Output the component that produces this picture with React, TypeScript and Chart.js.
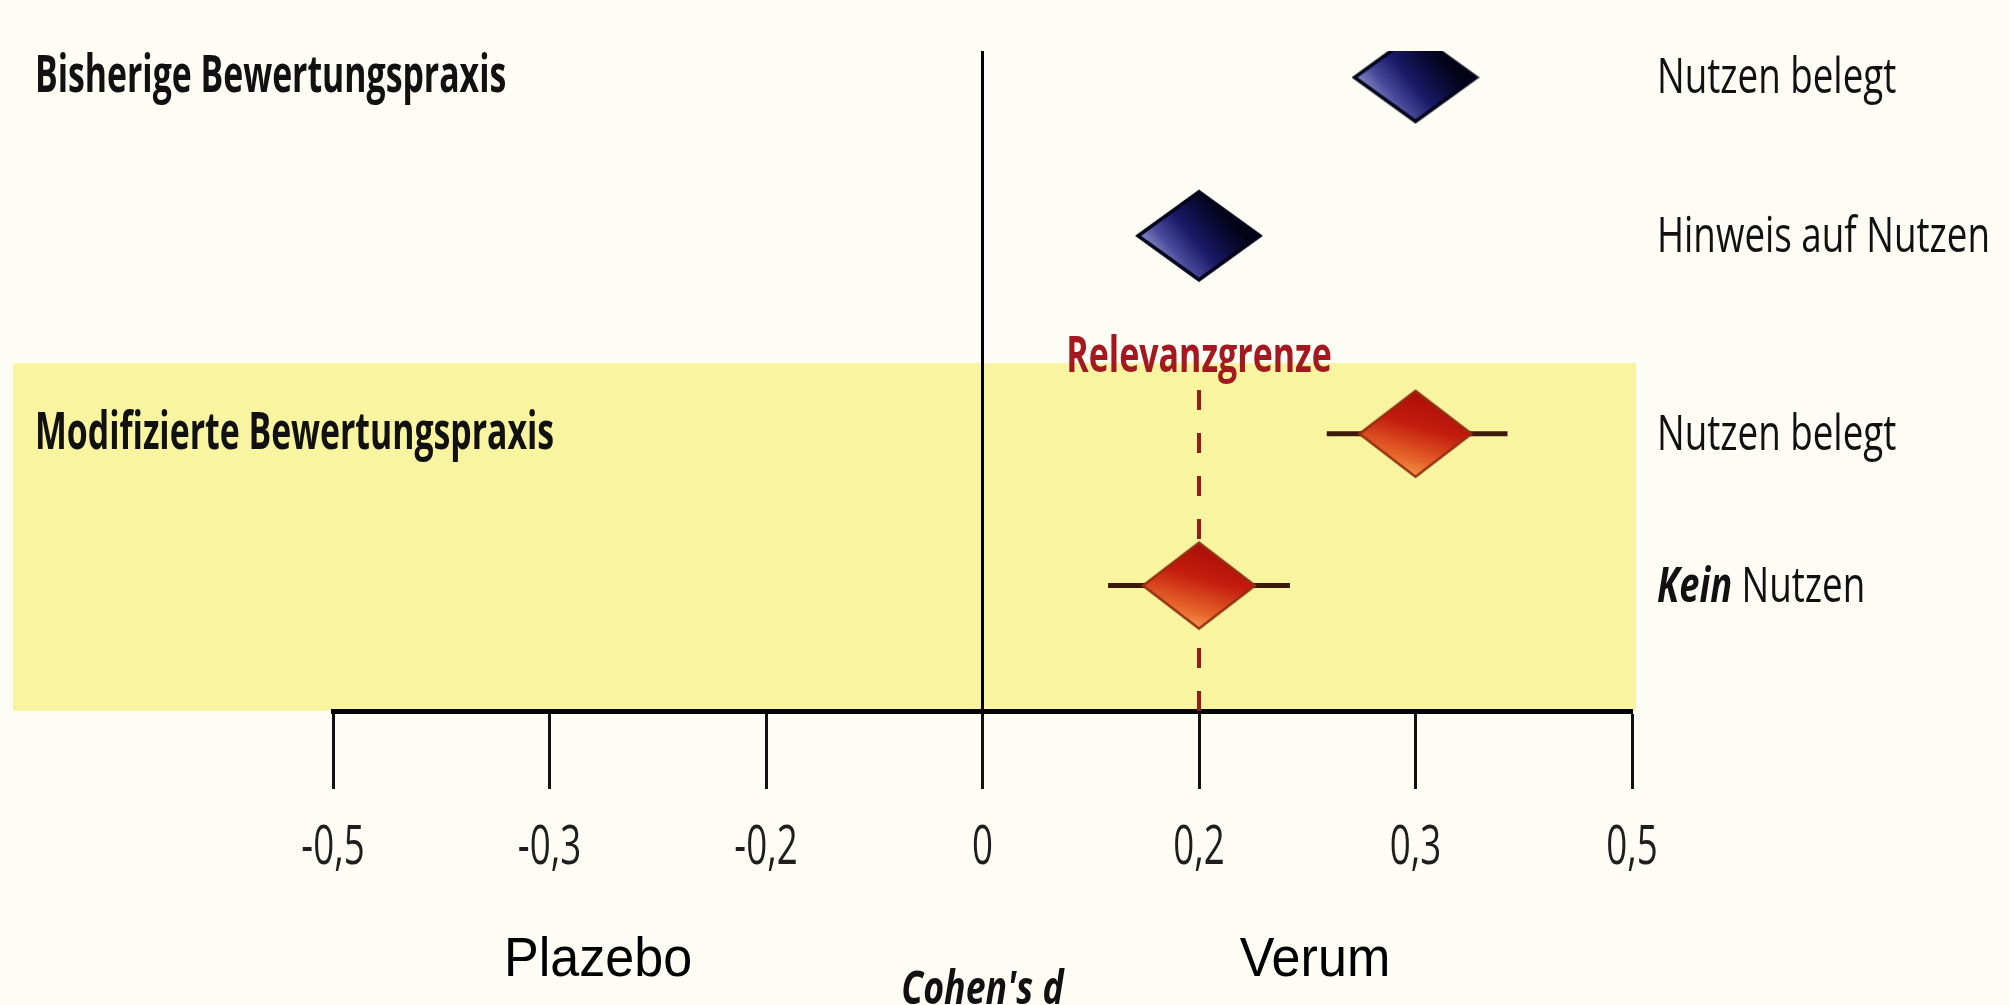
import React, { useEffect, useRef } from "react";
import { Chart, registerables } from "chart.js";

Chart.register(...registerables);

// ---------------- data ----------------
const tickValues = [-0.5, -0.3, -0.2, 0, 0.2, 0.3, 0.5];
const tickLabels = ["-0,5", "-0,3", "-0,2", "0", "0,2", "0,3", "0,5"];
const groupLabels = ["Bisherige Bewertungspraxis", "Modifizierte Bewertungspraxis"];
const groupRows = [0, 2];
const rowLabels = ["Nutzen belegt", "Hinweis auf Nutzen", "Nutzen belegt", "Nutzen"];
const rowLabelPrefix = ["", "", "", "Kein "];
const rowPositions = [9.6, 7.2, 4.2, 1.9];
const effects = [0.3, 0.2, 0.3, 0.2];
const groupOfRow = ["bisherig", "bisherig", "modifiziert", "modifiziert"];
const ciLower = [null, null, 0.259, 0.116];
const ciUpper = [null, null, 0.385, 0.242];
const relevanceThreshold = 0.2;
const relevanceLabel = "Relevanzgrenze";
const relevanceLineTop = 4.94;
const bandTop = 5.27;
const yMax = 10;
const sideLabels = ["Plazebo", "Verum"];
const axisTitle = "Cohen's d";

// map a Cohen's d value onto the equally spaced tick positions of the axis
function toAxis(d: number): number {
  for (let i = 0; i < tickValues.length - 1; i++) {
    const a = tickValues[i], b = tickValues[i + 1];
    if (d >= a && d <= b) return i + (d - a) / (b - a);
  }
  return d < tickValues[0] ? 0 : tickValues.length - 1;
}

// ---------------- styles ----------------
const W = 2009;
const H = 1005;
const REG = "'Open Sans', 'Noto Sans', sans-serif";

function makeDiamond(w: number, h: number, kind: "blue" | "red"): HTMLCanvasElement {
  const c = document.createElement("canvas");
  const p = 3;
  c.width = w + 2 * p;
  c.height = h + 2 * p;
  const g = c.getContext("2d")!;
  const cx = c.width / 2, cy = c.height / 2;
  g.beginPath();
  g.moveTo(cx, p);
  g.lineTo(c.width - p, cy);
  g.lineTo(cx, c.height - p);
  g.lineTo(p, cy);
  g.closePath();
  let grad: CanvasGradient;
  if (kind === "blue") {
    grad = g.createLinearGradient(p + w * 0.18, cy + h * 0.3, cx + w * 0.2, cy - h * 0.3);
    grad.addColorStop(0, "#8a8ac6");
    grad.addColorStop(0.22, "#4a4a9c");
    grad.addColorStop(0.5, "#1a1a68");
    grad.addColorStop(0.8, "#0a0a34");
    grad.addColorStop(1, "#030316");
    g.fillStyle = grad;
    g.fill();
    g.lineWidth = 3.5;
    g.strokeStyle = "#04041a";
    g.stroke();
  } else {
    grad = g.createLinearGradient(cx + w * 0.1, p, cx - w * 0.12, c.height - p);
    grad.addColorStop(0, "#a80c08");
    grad.addColorStop(0.4, "#c41c0e");
    grad.addColorStop(0.78, "#e6642a");
    grad.addColorStop(1, "#f6a255");
    g.fillStyle = grad;
    g.fill();
    g.lineWidth = 2.5;
    g.strokeStyle = "#93300f";
    g.stroke();
  }
  return c;
}

function drawText(
  ctx: CanvasRenderingContext2D,
  s: string,
  x: number,
  y: number,
  font: string,
  color: string,
  sx: number,
  align: "left" | "center" | "right" = "left"
): number {
  ctx.save();
  ctx.font = font;
  ctx.fillStyle = color;
  ctx.textBaseline = "alphabetic";
  ctx.textAlign = "left";
  const w = ctx.measureText(s).width * sx;
  const x0 = align === "center" ? x - w / 2 : align === "right" ? x - w : x;
  ctx.translate(x0, y);
  ctx.scale(sx, 1);
  ctx.fillText(s, 0, 0);
  ctx.restore();
  return w;
}

const decorPlugin = {
  id: "decor",
  beforeDraw(chart: any) {
    const { ctx, chartArea, scales } = chart;
    const y = scales.y;
    ctx.save();
    ctx.fillStyle = "#fdfdf6";
    ctx.fillRect(0, 0, chart.width, chart.height);
    const top = y.getPixelForValue(bandTop);
    ctx.fillStyle = "#f9f4a0";
    ctx.fillRect(13, top, chartArea.right + 4 - 13, chartArea.bottom - top);
    ctx.restore();
  },
  afterDraw(chart: any) {
    const { ctx, scales } = chart;
    const x = scales.x, y = scales.y;
    // tick labels
    x.ticks.forEach((t: any, i: number) => {
      drawText(ctx, tickLabels[i], x.getPixelForValue(t.value), 864, `400 54px ${REG}`, "#1e1e1e", 0.68, "center");
    });
    // group labels (left)
    groupLabels.forEach((s, i) => {
      const py = y.getPixelForValue(rowPositions[groupRows[i]]);
      drawText(ctx, s, 35, py + 15, `700 52px ${REG}`, "#111", 0.65);
    });
    // row labels (right)
    rowLabels.forEach((s, i) => {
      const py = y.getPixelForValue(rowPositions[i]) + 16;
      let px = 1657;
      if (rowLabelPrefix[i]) {
        px += drawText(ctx, rowLabelPrefix[i], px, py, `italic 700 49px ${REG}`, "#111", 0.74);
      }
      drawText(ctx, s, px, py, `400 49px ${REG}`, "#111", 0.75);
    });
    // relevance label
    drawText(ctx, relevanceLabel, x.getPixelForValue(toAxis(relevanceThreshold)), 372, `700 50px ${REG}`, "#a3191f", 0.68, "center");
    // side labels
    drawText(ctx, sideLabels[0], 598, 976, "400 56px 'Liberation Sans', Arial, sans-serif", "#000", 0.93, "center");
    drawText(ctx, sideLabels[1], 1315, 976, "400 56px 'Liberation Sans', Arial, sans-serif", "#000", 0.93, "center");
    // axis title
    drawText(ctx, axisTitle, x.getPixelForValue(toAxis(0)), 1004, `italic 700 47px ${REG}`, "#111", 0.76, "center");
  },
};

export default function App() {
  const ref = useRef<HTMLCanvasElement | null>(null);
  useEffect(() => {
    const canvas = ref.current!;
    const blue = makeDiamond(122, 88, "blue");
    const red = makeDiamond(112, 86, "red");

    const datasets: any[] = [];
    // diamonds
    ["bisherig", "modifiziert"].forEach((grp) => {
      const idx = effects.map((_, i) => i).filter((i) => groupOfRow[i] === grp);
      datasets.push({
        label: grp,
        data: idx.map((i) => ({ x: toAxis(effects[i]), y: rowPositions[i] })),
        pointStyle: grp === "bisherig" ? blue : red,
        pointRadius: 10,
        showLine: false,
        order: 0,
      });
    });
    // confidence intervals
    effects.forEach((_, i) => {
      if (ciLower[i] == null || ciUpper[i] == null) return;
      datasets.push({
        label: "ci" + i,
        data: [
          { x: toAxis(ciLower[i] as number), y: rowPositions[i] },
          { x: toAxis(ciUpper[i] as number), y: rowPositions[i] },
        ],
        showLine: true,
        borderColor: "#3b1a0a",
        borderWidth: 5,
        pointRadius: 0,
        order: 1,
      });
    });
    // zero line
    datasets.push({
      label: "zero",
      data: [
        { x: toAxis(0), y: 0 },
        { x: toAxis(0), y: yMax },
      ],
      showLine: true,
      borderColor: "#000",
      borderWidth: 3,
      pointRadius: 0,
      order: 3,
    });
    // relevance threshold
    datasets.push({
      label: "relevanz",
      data: [
        { x: toAxis(relevanceThreshold), y: 0 },
        { x: toAxis(relevanceThreshold), y: relevanceLineTop },
      ],
      showLine: true,
      borderColor: "#961b1b",
      borderWidth: 4,
      borderDash: [20, 23],
      borderDashOffset: 0,
      pointRadius: 0,
      order: 2,
    });

    const chart = new Chart(canvas, {
      type: "scatter",
      data: { datasets },
      plugins: [decorPlugin],
      options: {
        animation: false,
        responsive: false,
        devicePixelRatio: 1,
        layout: { padding: { left: 333, right: W - 1632, top: 51, bottom: 0 } },
        plugins: { legend: { display: false }, tooltip: { enabled: false } },
        scales: {
          x: {
            type: "linear",
            min: 0,
            max: tickValues.length - 1,
            afterBuildTicks: (s: any) => {
              s.ticks = tickValues.map((_, i) => ({ value: i }));
            },
            afterFit: (s: any) => {
              s.height = H - 711;
            },
            border: { display: true, color: "#000", width: 5 },
            grid: {
              display: true,
              drawOnChartArea: false,
              drawTicks: true,
              tickLength: 78,
              tickWidth: 3,
              tickColor: "#111",
            },
            ticks: { display: false },
          },
          y: {
            type: "linear",
            display: false,
            min: 0,
            max: yMax,
          },
        },
      },
    });
    return () => chart.destroy();
  }, []);
  return (
    <div style={{ position: "fixed", left: 0, top: 0, width: W, height: H }}>
      <canvas ref={ref} width={W} height={H} style={{ display: "block", width: W, height: H }} />
    </div>
  );
}
